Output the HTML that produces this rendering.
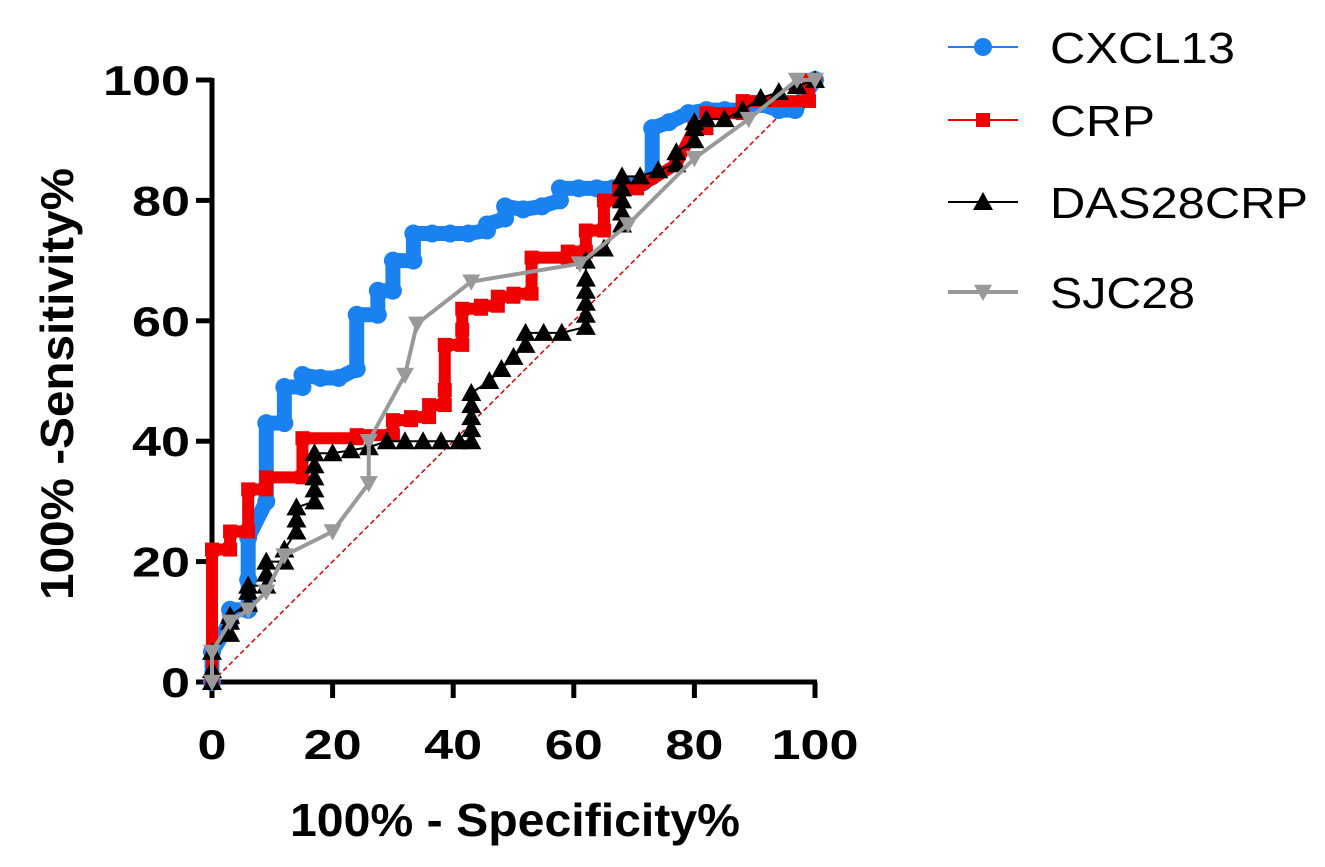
<!DOCTYPE html>
<html><head><meta charset="utf-8"><style>
body{margin:0;background:#fff;}
svg{display:block;font-family:"Liberation Sans",Arial,sans-serif;}
</style></head><body>
<svg id="chart" width="1325" height="867">
<g id="axes"></g><g id="series"></g><g id="legend"></g>
</svg>
<script>
const xTicks=[0,20,40,60,80,100];
const yTicks=[0,20,40,60,80,100];
const cxcl13=[[0,0],[0,5],[3,10],[3,12],[6,12],[6,17],[6,24],[9,30],[9,43],[12,43],[12,49],[15,49],[15,51],[18,50.5],[21,50.5],[24,52],[24,61],[27.5,61],[27.5,65],[30,65],[30,70],[33.4,70],[33.4,74.5],[36.5,74.5],[39.5,74.5],[42.5,74.5],[45.6,75],[45.6,76],[48.6,77],[48.6,79],[51.6,78.5],[54.7,79],[57.7,80],[57.7,82],[60.8,82],[63.8,82],[66.5,82],[69,82.5],[71.5,83],[73,84],[73,92],[75.8,93],[79,94.5],[82,95],[85,95],[88,95],[91,96],[94,95],[96.7,95],[100,100]];
const crp=[[0,0],[0,22],[3,22],[3,25],[6,25],[6,32],[9,32],[9,34],[15,34],[15,40.5],[24,40.5],[24,41],[30,41],[30,43.5],[33,43.5],[33,44],[36,44],[36,46],[38.6,46],[38.6,48.5],[38.6,56],[41.5,56],[41.5,58.5],[41.5,62],[44.6,62],[44.6,62.5],[47.4,62.5],[47.4,64],[50,64],[50,64.5],[53,64.5],[53,70.5],[59,70.5],[59,71.5],[62,71.5],[62,75],[65,75],[65,80],[67.5,80],[67.5,82],[70.5,82],[77,86],[80,92],[82,92],[82,94.5],[88,94.5],[88,96.5],[99,96.5],[99,100],[100,100]];
const das28crp=[[0,0],[0,2],[0,5],[3,8],[3,10],[3,11],[6,13],[6,15],[6,16],[9,16],[9,18],[9,20],[12,20],[12,22],[14,25],[14,27],[14,29],[17,30],[17,32],[17,34],[17,36],[17,38],[20,38],[23,38.5],[26,39],[29,40],[32,40],[35,40],[38,40],[41,40],[43,40],[43,42],[43,44],[43,46],[43,48],[46,50],[48,52],[50,54],[52,56],[52,58],[55,58],[58,58],[62,59],[62,61],[62,63],[62,65],[62,67],[62,70],[65,72],[68,76],[68,78],[68,80],[68,82],[68,84],[71,84],[74,85],[77,86],[77,88],[80,90],[80,92],[80,93],[82,93.5],[85,93.5],[88,95],[91,97],[94,98],[97,99],[100,100]];
const sjc28=[[0,0],[0,5],[3,10],[6,12],[9,15],[12,21],[20,25],[26,33],[26,40],[32,51],[34,59.5],[43,66.5],[61,69.5],[69,76],[80,87],[89,93.5],[97,100],[100,100]];

const NS="http://www.w3.org/2000/svg";
const X0=212,X1=815,Y0=682,Y1=80;
const sx=v=>X0+(X1-X0)*v/100, sy=v=>Y0-(Y0-Y1)*v/100;
function mk(t,a,p){const e=document.createElementNS(NS,t);for(const k in a)e.setAttribute(k,a[k]);p.appendChild(e);return e;}
const axes=document.getElementById('axes'),ser=document.getElementById('series'),leg=document.getElementById('legend');

const diag=mk('line',{x1:sx(0),y1:sy(0),x2:sx(100),y2:sy(100),stroke:'#e00000','stroke-width':1.5,'stroke-dasharray':'5,3'},ser);



const ya=mk('line',{x1:X0,y1:Y1-2,x2:X0,y2:Y0+2,stroke:'#000','stroke-width':5},axes);


const xa=mk('line',{x1:X0-2,y1:Y0,x2:X1+2,y2:Y0,stroke:'#000','stroke-width':5},axes);


xTicks.forEach(v=>{
  const t=mk('line',{x1:sx(v),y1:Y0,x2:sx(v),y2:Y0+16,stroke:'#000','stroke-width':5},axes);
  
  
  const n=String(v).length;
  const l=mk('text',{x:sx(v),y:759,'text-anchor':'middle','font-size':42,'font-weight':'bold',textLength:29*n,lengthAdjust:'spacingAndGlyphs'},axes);
  l.textContent=v;
  
  
});
yTicks.forEach(v=>{
  const t=mk('line',{x1:X0-16,y1:sy(v),x2:X0,y2:sy(v),stroke:'#000','stroke-width':5},axes);
  
  
  const n=String(v).length;
  const l=mk('text',{x:190,y:sy(v)+15,'text-anchor':'end','font-size':42,'font-weight':'bold',textLength:29*n,lengthAdjust:'spacingAndGlyphs'},axes);
  l.textContent=v;
  
  
});
const xt=mk('text',{x:515,y:836,'text-anchor':'middle','font-size':46,'font-weight':'bold',textLength:450,lengthAdjust:'spacingAndGlyphs'},axes);
xt.textContent='100% - Specificity%';


const yt=mk('text',{x:0,y:0,'text-anchor':'middle','font-size':46,'font-weight':'bold',textLength:432,lengthAdjust:'spacingAndGlyphs',transform:'translate(73,384) rotate(-90)'},axes);
yt.textContent='100% -Sensitivity%';



function marker(type,x,y,col,p,s){
  if(type==='circle')return mk('circle',{cx:x,cy:y,r:s,fill:col},p);
  if(type==='square')return mk('rect',{x:x-s,y:y-s,width:2*s,height:2*s,fill:col},p);
  if(type==='up')return mk('polygon',{points:`${x},${y-s} ${x-s},${y+s*0.8} ${x+s},${y+s*0.8}`,fill:col},p);
  return mk('polygon',{points:`${x},${y+s} ${x-s},${y-s*0.8} ${x+s},${y-s*0.8}`,fill:col},p);
}
const defs=[
 {name:'cxcl13',label:'CXCL13',data:cxcl13,col:'#1a82f0',w:15,m:'circle',s:9,ly:47,lw:2,tl:185},
 {name:'crp',label:'CRP',data:crp,col:'#f00000',w:12,m:'square',s:7,ly:120,lw:2,tl:105},
 {name:'das28crp',label:'DAS28CRP',data:das28crp,col:'#000',w:2,m:'up',s:10,ly:202,lw:2,tl:258},
 {name:'sjc28',label:'SJC28',data:sjc28,col:'#999',w:4,m:'down',s:9,ly:292,lw:4,tl:145}
];
defs.forEach(d=>{
  const g=mk('g',{},ser);
  
  
  const pl=mk('polyline',{points:d.data.map(p=>sx(p[0])+','+sy(p[1])).join(' '),fill:'none',stroke:d.col,'stroke-width':d.w,'stroke-linejoin':d.m==='circle'?'round':'miter','stroke-linecap':d.m==='circle'?'round':'square'},g);
  
  
  d.data.forEach(p=>{
    const m=marker(d.m,sx(p[0]),sy(p[1]),d.col,g,d.s);
    
    
  });
  const lg=mk('g',{},leg);
  
  
  mk('line',{x1:948,y1:d.ly,x2:1018,y2:d.ly,stroke:d.col,'stroke-width':d.lw},lg);
  marker(d.m,983,d.ly,d.col,lg,d.s);
  const t=mk('text',{x:1050,y:d.ly+16,'font-size':44,textLength:d.tl,lengthAdjust:'spacingAndGlyphs'},lg);
  t.textContent=d.label;
  
  
});
</script>
</body></html>
